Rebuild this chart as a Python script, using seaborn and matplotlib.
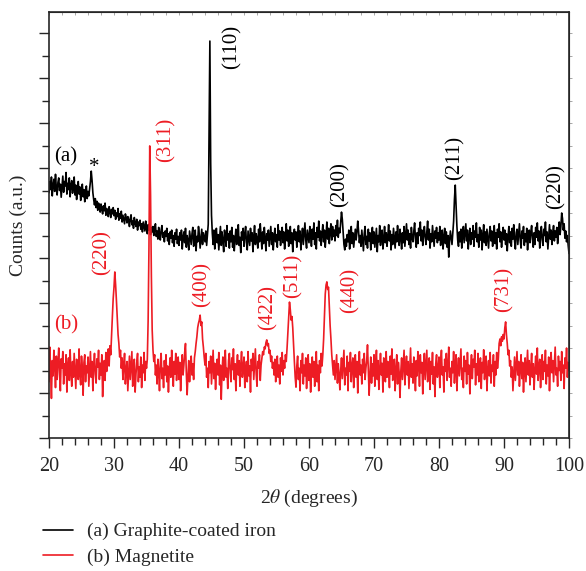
import numpy as np
import pandas as pd
import matplotlib
matplotlib.use("Agg")
import matplotlib.pyplot as plt
import seaborn as sns

# 2-theta grid (degrees), 0.125 deg step
two_theta = np.arange(20.0, 100.0 + 0.001, 0.125)

# (a) Graphite-coated iron (arbitrary units), one row = 2 degrees
graphite_iron = [
    5.45, 5.70, 5.52, 5.80, 5.38, 5.62, 5.75, 5.48, 5.86, 5.55, 5.40, 5.68, 5.78, 5.50, 5.64, 5.35,
    5.58, 5.82, 5.46, 5.70, 5.60, 5.90, 5.42, 5.66, 5.52, 5.78, 5.36, 5.62, 5.72, 5.44, 5.58, 5.80,
    5.40, 5.62, 5.30, 5.55, 5.70, 5.42, 5.58, 5.28, 5.50, 5.64, 5.36, 5.52, 5.25, 5.46, 5.60, 5.32,
    5.48, 5.38, 5.55, 5.70, 5.93, 5.72, 5.45, 5.30, 5.18, 5.32, 5.12, 5.26, 5.06, 5.22, 5.15, 5.02,
    5.20, 5.08, 4.98, 5.16, 5.05, 5.22, 4.95, 5.10, 5.00, 4.92, 5.14, 5.04, 4.90, 5.08, 4.98, 5.12,
    4.94, 5.06, 4.86, 5.00, 4.92, 5.10, 4.84, 4.98, 4.88, 5.04, 4.80, 4.95, 4.86, 4.76, 4.98, 4.90,
    4.78, 4.92, 4.84, 4.70, 4.88, 4.96, 4.74, 4.82, 4.66, 4.90, 4.78, 4.70, 4.86, 4.62, 4.80, 4.72,
    4.84, 4.64, 4.76, 4.58, 4.80, 4.70, 4.60, 4.82, 4.66, 4.54, 4.74, 4.62, 4.78, 4.52, 4.68, 4.58,
    4.70, 4.50, 4.64, 4.76, 4.48, 4.60, 4.42, 4.68, 4.55, 4.40, 4.62, 4.72, 4.46, 4.56, 4.36, 4.60,
    4.48, 4.66, 4.38, 4.54, 4.30, 4.58, 4.44, 4.62, 4.34, 4.50, 4.26, 4.56, 4.42, 4.64, 4.32, 4.48,
    4.28, 4.56, 4.40, 4.62, 4.20, 4.46, 4.58, 4.34, 4.66, 4.24, 4.50, 4.38, 4.18, 4.60, 4.44, 4.30,
    4.54, 4.68, 4.26, 4.40, 4.62, 4.16, 4.48, 4.36, 4.70, 4.52, 4.22, 4.42, 4.64, 4.30, 4.56, 4.46,
    4.36, 4.60, 4.28, 4.52, 4.75, 6.90, 8.82, 6.10, 4.95, 4.55, 4.30, 4.62, 4.20, 4.48, 4.66, 4.34,
    4.52, 4.18, 4.44, 4.70, 4.28, 4.58, 4.38, 4.14, 4.62, 4.46, 4.26, 4.72, 4.40, 4.54, 4.22, 4.60,
    4.36, 4.68, 4.24, 4.50, 4.16, 4.42, 4.64, 4.30, 4.56, 4.74, 4.28, 4.46, 4.12, 4.58, 4.40, 4.66,
    4.26, 4.52, 4.70, 4.34, 4.18, 4.60, 4.44, 4.28, 4.66, 4.38, 4.56, 4.14, 4.48, 4.72, 4.30, 4.54,
    4.42, 4.22, 4.64, 4.36, 4.76, 4.50, 4.20, 4.58, 4.32, 4.68, 4.44, 4.16, 4.54, 4.40, 4.62, 4.26,
    4.48, 4.70, 4.30, 4.56, 4.18, 4.44, 4.66, 4.36, 4.52, 4.24, 4.74, 4.40, 4.60, 4.28, 4.50, 4.68,
    4.34, 4.58, 4.20, 4.46, 4.76, 4.38, 4.62, 4.26, 4.52, 4.70, 4.32, 4.56, 4.14, 4.48, 4.64, 4.40,
    4.58, 4.24, 4.50, 4.72, 4.36, 4.60, 4.18, 4.46, 4.66, 4.30, 4.54, 4.78, 4.40, 4.22, 4.62, 4.48,
    4.34, 4.70, 4.52, 4.26, 4.64, 4.42, 4.78, 4.30, 4.56, 4.20, 4.68, 4.46, 4.82, 4.38, 4.60, 4.28,
    4.54, 4.74, 4.36, 4.62, 4.24, 4.50, 4.80, 4.42, 4.66, 4.32, 4.58, 4.76, 4.40, 4.70, 4.48, 4.62,
    4.38, 4.72, 4.50, 4.84, 4.46, 4.66, 4.56, 4.78, 5.02, 4.86, 4.58, 4.30, 4.18, 4.42, 4.26, 4.52,
    4.36, 4.62, 4.20, 4.48, 4.70, 4.32, 4.56, 4.24, 4.44, 4.64, 4.40, 4.58, 4.82, 4.60, 4.34, 4.50,
    4.26, 4.62, 4.40, 4.16, 4.54, 4.70, 4.30, 4.48, 4.22, 4.64, 4.38, 4.56, 4.18, 4.46, 4.68, 4.32,
    4.58, 4.24, 4.44, 4.66, 4.14, 4.50, 4.36, 4.72, 4.28, 4.52, 4.62, 4.20, 4.42, 4.70, 4.34, 4.56,
    4.26, 4.48, 4.74, 4.38, 4.60, 4.18, 4.52, 4.30, 4.66, 4.44, 4.22, 4.58, 4.36, 4.72, 4.40, 4.28,
    4.64, 4.46, 4.20, 4.56, 4.34, 4.70, 4.26, 4.50, 4.76, 4.40, 4.62, 4.30, 4.54, 4.22, 4.68, 4.44,
    4.36, 4.60, 4.78, 4.42, 4.24, 4.56, 4.32, 4.66, 4.50, 4.80, 4.38, 4.62, 4.28, 4.52, 4.70, 4.46,
    4.30, 4.58, 4.82, 4.40, 4.64, 4.22, 4.54, 4.36, 4.72, 4.48, 4.26, 4.60, 4.44, 4.68, 4.34, 4.56,
    4.40, 4.70, 4.28, 4.54, 4.62, 4.20, 4.46, 4.66, 4.32, 4.58, 4.24, 4.50, 4.02, 4.38, 4.60, 4.44,
    4.30, 4.56, 4.82, 5.30, 5.62, 5.18, 4.72, 4.40, 4.26, 4.58, 4.36, 4.64, 4.22, 4.50, 4.70, 4.34,
    4.54, 4.76, 4.38, 4.62, 4.20, 4.48, 4.66, 4.30, 4.56, 4.42, 4.72, 4.26, 4.60, 4.46, 4.78, 4.36,
    4.52, 4.24, 4.68, 4.40, 4.62, 4.18, 4.50, 4.74, 4.34, 4.58, 4.28, 4.64, 4.44, 4.22, 4.56, 4.70,
    4.38, 4.60, 4.26, 4.52, 4.72, 4.32, 4.56, 4.20, 4.64, 4.46, 4.76, 4.36, 4.58, 4.24, 4.50, 4.68,
    4.40, 4.62, 4.30, 4.54, 4.16, 4.48, 4.70, 4.34, 4.58, 4.26, 4.66, 4.42, 4.74, 4.38, 4.20, 4.56,
    4.64, 4.30, 4.52, 4.76, 4.40, 4.22, 4.60, 4.44, 4.70, 4.28, 4.54, 4.36, 4.66, 4.18, 4.50, 4.62,
    4.34, 4.58, 4.72, 4.42, 4.24, 4.56, 4.30, 4.68, 4.46, 4.78, 4.38, 4.60, 4.22, 4.52, 4.70, 4.40,
    4.28, 4.64, 4.50, 4.80, 4.36, 4.58, 4.20, 4.48, 4.74, 4.42, 4.62, 4.30, 4.56, 4.72, 4.38, 4.60,
    4.46, 4.68, 4.32, 4.58, 4.80, 4.52, 4.70, 5.00, 4.88, 4.62, 4.76, 4.44, 4.60, 4.36, 4.50, 4.28,
    4.10,
]

# (b) Magnetite
magnetite = [
    1.25, 2.02, 1.50, 0.88, 1.72, 1.38, 1.95, 1.60, 1.12, 1.82, 1.30, 1.68, 2.00, 1.42, 1.05, 1.76,
    1.55, 1.92, 1.20, 1.65, 1.40, 1.85, 1.02, 1.58, 1.78, 1.28, 1.96, 1.45, 1.15, 1.70, 1.35, 1.88,
    1.48, 1.10, 1.75, 1.62, 1.30, 1.98, 1.40, 1.18, 1.82, 1.55, 0.95, 1.68, 1.85, 1.25, 1.60, 1.45,
    1.80, 1.15, 1.52, 1.92, 1.35, 1.70, 1.05, 1.62, 1.88, 1.42, 1.22, 1.76, 1.58, 1.95, 1.30, 1.66,
    1.40, 1.85, 0.92, 1.55, 1.72, 1.28, 1.90, 1.48, 1.65, 1.98, 1.60, 2.05, 1.85, 2.30, 2.70, 3.10,
    3.35, 3.69, 3.40, 3.05, 2.65, 2.30, 2.10, 1.80, 1.95, 1.55, 1.78, 1.30, 1.62, 1.88, 1.20, 1.52,
    1.70, 1.05, 1.45, 1.82, 1.30, 1.60, 1.92, 1.15, 1.50, 1.75, 1.02, 1.40, 1.68, 1.88, 1.25, 1.58,
    1.35, 1.80, 1.12, 1.62, 1.45, 1.90, 1.28, 1.70, 1.55, 1.75, 2.60, 4.20, 6.49, 5.40, 3.60, 2.40,
    1.95, 1.70, 1.85, 1.40, 1.62, 1.20, 1.75, 1.48, 1.05, 1.66, 1.88, 1.32, 1.55, 1.12, 1.72, 1.40,
    1.85, 1.25, 1.60, 1.02, 1.48, 1.78, 1.35, 1.95, 1.52, 1.15, 1.70, 1.42, 1.88, 1.28, 1.62, 1.80,
    1.30, 1.68, 1.05, 1.52, 1.85, 1.40, 1.62, 1.90, 2.10, 1.45, 0.96, 1.38, 1.72, 1.25, 1.58, 1.82,
    1.40, 1.65, 1.30, 1.78, 1.92, 2.10, 2.25, 2.45, 2.55, 2.62, 2.73, 2.50, 2.58, 2.20, 2.02, 1.80,
    1.62, 1.88, 1.35, 1.55, 1.12, 1.70, 1.45, 1.82, 1.20, 1.58, 1.95, 1.32, 1.66, 1.08, 1.50, 1.75,
    1.40, 1.90, 1.18, 1.62, 0.86, 1.48, 1.80, 1.28, 1.68, 1.95, 1.35, 1.55, 1.10, 1.72, 1.88, 1.45,
    1.25, 1.78, 1.52, 1.98, 1.30, 1.65, 1.05, 1.58, 1.85, 1.40, 1.72, 1.15, 1.62, 1.92, 1.35, 1.55,
    1.80, 1.12, 1.48, 1.70, 1.25, 1.92, 1.38, 1.60, 1.02, 1.75, 1.50, 1.88, 1.30, 1.62, 1.98, 1.42,
    1.15, 1.70, 1.55, 1.85, 1.28, 1.62, 1.78, 1.92, 1.85, 2.02, 1.98, 2.12, 2.18, 2.05, 2.10, 1.88,
    1.95, 1.70, 1.82, 1.55, 1.68, 1.40, 1.75, 1.25, 1.58, 1.82, 1.35, 1.62, 1.20, 1.78, 1.48, 1.90,
    1.40, 1.72, 1.55, 1.85, 1.70, 2.00, 2.35, 2.70, 3.02, 2.85, 2.62, 2.70, 2.45, 2.05, 1.70, 1.35,
    1.13, 1.60, 1.82, 1.30, 1.55, 1.05, 1.72, 1.45, 1.88, 1.20, 1.62, 1.38, 1.78, 1.10, 1.52, 1.85,
    1.28, 1.65, 1.02, 1.48, 1.80, 1.35, 1.70, 1.15, 1.58, 1.92, 1.25, 1.62, 1.05, 1.72, 1.45, 1.88,
    1.60, 1.85, 2.20, 2.70, 3.20, 3.40, 3.47, 3.30, 3.35, 2.90, 2.50, 2.20, 1.85, 1.62, 1.40, 1.72,
    1.30, 1.58, 1.85, 1.22, 1.65, 1.42, 1.07, 1.50, 1.78, 1.32, 1.62, 1.95, 1.18, 1.55, 1.40, 1.82,
    1.05, 1.68, 1.48, 1.90, 1.25, 1.60, 1.78, 1.12, 1.52, 1.85, 1.35, 1.70, 1.00, 1.58, 1.92, 1.40,
    1.62, 1.20, 1.75, 1.45, 1.88, 1.30, 1.55, 1.72, 2.07, 1.50, 0.95, 1.42, 1.80, 1.22, 1.65, 1.38,
    1.85, 1.15, 1.60, 1.95, 1.30, 1.72, 1.08, 1.52, 1.88, 1.40, 1.66, 1.02, 1.78, 1.48, 1.25, 1.92,
    1.35, 1.70, 1.55, 1.12, 1.82, 1.42, 1.98, 1.28, 1.60, 1.75, 1.05, 1.50, 1.85, 1.20, 1.68, 1.45,
    0.90, 1.48, 1.78, 1.30, 1.62, 1.95, 1.18, 1.55, 1.82, 1.40, 1.70, 1.10, 1.58, 2.00, 1.35, 1.65,
    1.22, 1.80, 1.50, 1.05, 1.72, 1.38, 1.92, 1.60, 1.15, 1.85, 1.45, 1.68, 0.98, 1.55, 1.88, 1.30,
    1.62, 1.95, 1.25, 1.48, 1.78, 1.08, 1.70, 1.42, 1.90, 1.20, 1.58, 0.92, 1.65, 1.85, 1.35, 1.52,
    1.80, 1.12, 1.66, 1.95, 1.40, 1.58, 1.02, 1.75, 1.48, 1.88, 1.28, 1.62, 2.02, 1.35, 1.55, 1.15,
    1.70, 1.45, 1.92, 1.22, 1.60, 1.85, 1.05, 1.52, 1.78, 1.38, 1.68, 1.98, 1.30, 1.55, 1.12, 1.82,
    1.48, 1.72, 1.20, 1.90, 1.42, 1.62, 0.98, 1.55, 1.85, 1.32, 1.75, 1.58, 1.95, 1.18, 1.65, 1.40,
    1.88, 1.25, 1.55, 1.78, 1.10, 1.68, 1.45, 1.96, 1.30, 1.60, 1.82, 1.05, 1.52, 1.72, 1.38, 1.90,
    1.22, 1.62, 1.48, 1.85, 1.15, 1.70, 1.40, 1.90, 1.55, 1.75, 2.10, 2.20, 2.05, 2.25, 2.15, 2.30,
    2.20, 2.45, 2.58, 2.30, 2.10, 1.85, 1.95, 1.60, 1.72, 1.35, 1.58, 1.05, 1.45, 1.80, 1.28, 1.62,
    1.92, 1.40, 1.70, 1.15, 1.55, 1.85, 1.32, 1.68, 1.02, 1.50, 1.78, 1.25, 1.62, 1.95, 1.40, 1.72,
    1.18, 1.58, 1.88, 1.35, 1.65, 1.08, 1.50, 1.82, 1.42, 2.00, 1.28, 1.60, 1.75, 1.12, 1.55, 1.85,
    1.30, 1.70, 1.48, 1.95, 1.20, 1.62, 1.38, 1.80, 1.05, 1.58, 1.90, 1.45, 1.72, 1.25, 1.65, 2.02,
    1.40, 1.55, 1.15, 1.82, 1.50, 1.70, 1.28, 1.92, 1.45, 1.62, 1.10, 1.78, 1.55, 2.00, 1.35, 1.68,
    1.50,
]

# peak labels: (text, 2theta, y)
iron_labels = ["(110)", "(200)", "(211)", "(220)"]
iron_label_x = [48.2, 64.8, 82.5, 98.0]
iron_label_y = [8.69, 5.64, 6.22, 5.58]

magnetite_labels = ["(220)", "(311)", "(400)", "(422)", "(511)", "(440)", "(731)"]
magnetite_label_x = [28.1, 38.0, 43.5, 53.7, 57.6, 66.3, 90.0]
magnetite_label_y = [4.11, 6.62, 3.42, 2.91, 3.60, 3.27, 3.31]

RED = "#ed1c24"
FS = 14.5

sns.set_style("ticks")
plt.rcParams["font.family"] = ["Liberation Serif", "DejaVu Serif"]
plt.rcParams["mathtext.fontset"] = "stix"

fig = plt.figure(figsize=(5.86, 5.71), dpi=100)
ax = fig.add_axes([49 / 586, 133 / 571, 520 / 586, 426 / 571])

sns.lineplot(x=two_theta, y=graphite_iron, color="black", lw=1.2, ax=ax,
             estimator=None, label="(a) Graphite-coated iron")
sns.lineplot(x=two_theta, y=magnetite, color=RED, lw=1.2, ax=ax,
             estimator=None, label="(b) Magnetite")

ax.set_xlim(20, 100)
ax.set_ylim(0, 426 / 45)
ax.set_xticks(np.arange(20, 101, 10))
ax.set_xticks(np.arange(20, 101, 2), minor=True)
ax.set_yticks(np.arange(0, 9.5, 1))
ax.set_yticks(np.arange(0.5, 9.5, 1), minor=True)
ax.set_yticklabels([])
ax.tick_params(axis="both", which="major", direction="out", length=7, width=1,
               labelsize=FS, pad=7)
ax.tick_params(axis="both", which="minor", direction="out", length=5, width=1)
for s in ax.spines.values():
    s.set_linewidth(1.2)

# faint ticks on top (inward) and right (outward)
top = ax.secondary_xaxis("top")
top.set_xticks(np.arange(20, 101, 2))
top.set_xticklabels([])
top.tick_params(direction="in", length=2, width=0.6, color="#999999")
right = ax.secondary_yaxis("right")
right.set_yticks(np.arange(0, 9.5, 0.5))
right.set_yticklabels([])
right.tick_params(direction="out", length=2, width=0.6, color="#999999")

ax.set_xlabel(r"2$\theta$ (degrees)", fontsize=FS - 0.5, labelpad=8)
ax.set_ylabel("Counts (a.u.)", fontsize=FS - 0.5, labelpad=2)

for t, x, y in zip(iron_labels, iron_label_x, iron_label_y):
    ax.text(x, y, t, rotation=90, ha="center", va="center", fontsize=15, color="black")
for t, x, y in zip(magnetite_labels, magnetite_label_x, magnetite_label_y):
    ax.text(x, y, t, rotation=90, ha="center", va="center", fontsize=15, color=RED)

ax.text(22.6, 6.24, "(a)", ha="center", va="center", fontsize=15, color="black")
ax.text(26.9, 6.02, "*", ha="center", va="center", fontsize=15, color="black")
ax.text(22.6, 2.51, "(b)", ha="center", va="center", fontsize=15, color=RED)

handles, labels = ax.get_legend_handles_labels()
ax.get_legend().remove()
fig.legend(handles, labels, loc="upper left", bbox_to_anchor=(35 / 586, 1 - 515 / 571),
           frameon=False, fontsize=14, handlelength=1.55, handletextpad=0.72,
           labelspacing=0.4, borderaxespad=0)

fig.savefig("out.png", dpi=100)
